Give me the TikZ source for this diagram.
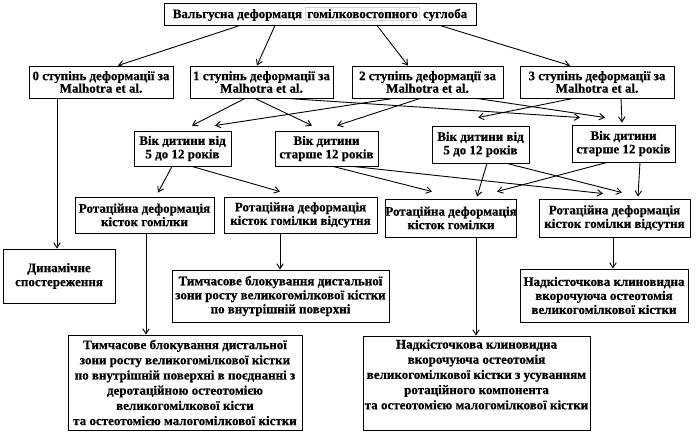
\documentclass[tikz,border=0pt]{standalone}
\usepackage{fontspec}
\setmainfont{Liberation Serif}[BoldFeatures={FakeBold=0.6}]
\usetikzlibrary{arrows.meta,positioning}
\definecolor{hlgray}{HTML}{D4D4D4}
\setlength{\fboxsep}{1.5pt}
\setlength{\fboxrule}{0.5pt}
\tikzset{
  flowbox/.style={draw, line width=0.9pt, align=center, inner sep=0pt,
    font=\bfseries\fontsize{13}{14}\selectfont},
  gradebox/.style={flowbox, font=\bfseries\fontsize{13}{12.5}\selectfont, minimum height=32pt},
  agebox/.style={flowbox, font=\bfseries\fontsize{13}{13.5}\selectfont},
  rotbox/.style={flowbox, font=\bfseries\fontsize{13}{13.5}\selectfont},
  bigbox/.style={flowbox, font=\bfseries\fontsize{13}{15.2}\selectfont},
  arr/.style={-{Straight Barb[length=5pt,width=6.5pt]}, line width=0.9pt}
}

\begin{document}
\begin{tikzpicture}[x=1pt, y=-1pt]
    \useasboundingbox (0,0) rectangle (697,436);
    % root
    \node[flowbox, minimum width=312pt, minimum height=22pt] (root) at (320,14)
      {Вальгусна деформаця \fcolorbox{hlgray}{white}{гомілковостопного} суглоба};
    % grades
    \node[gradebox, minimum width=144pt] (g0) at (101,82) {0 ступінь деформації за\\Malhotra et al.};
    \node[gradebox, minimum width=143pt] (g1) at (261.5,82) {1 ступінь деформації за\\Malhotra et al.};
    \node[gradebox, minimum width=151pt] (g2) at (427.5,82) {2 ступінь деформації за\\Malhotra et al.};
    \node[gradebox, minimum width=154pt] (g3) at (597,82) {3 ступінь деформації за\\Malhotra et al.};
    % age
    \node[agebox, minimum width=97pt, minimum height=35pt] (a1) at (182.5,148.5) {Вік дитини від\\5 до 12 років};
    \node[agebox, minimum width=103pt, minimum height=35pt] (a2) at (326.5,148.5) {Вік дитини\\старше 12 років};
    \node[agebox, minimum width=97pt, minimum height=37pt] (a3) at (480.5,144.5) {Вік дитини від\\5 до 12 років};
    \node[agebox, minimum width=103pt, minimum height=37pt] (a4) at (623.5,143.5) {Вік дитини\\старше 12 років};
    % rotation
    \node[rotbox, minimum width=139pt, minimum height=36pt] (r1) at (144.5,215) {Ротаційна деформація\\кісток гомілки};
    \node[rotbox, minimum width=153pt, minimum height=36pt] (r2) at (300.5,215) {Ротаційна деформація\\кісток гомілки відсутня};
    \node[rotbox, minimum width=126pt, minimum height=38pt] (r3) at (451,218) {Ротаційна деформація\\кісток гомілки};
    \node[rotbox, minimum width=151pt, minimum height=38pt] (r4) at (614.5,218) {Ротаційна деформація\\кісток гомілки відсутня};
    % treatment
    \node[flowbox, minimum width=112pt, minimum height=54pt] (obs) at (59,276) {Динамічне\\спостереження};
    \node[flowbox, minimum width=217pt, minimum height=52pt] (t1) at (280.5,296)
      {Тимчасове блокування дистальної\\зони росту великогомілкової кістки\\по внутрішній поверхні};
    \node[flowbox, minimum width=168pt, minimum height=53pt] (n1) at (604,295.5)
      {Надкісточкова клиновидна\\вкорочуюча остеотомія\\великогомілкової кістки};
    \node[bigbox, minimum width=234pt, minimum height=95pt] (t2) at (185,382.5)
      {Тимчасове блокування дистальної\\зони росту великогомілкової кістки\\по внутрішній поверхні в поєднанні з\\деротаційною остеотомією\\великогомілкової кісти\\та остеотомією малогомілкової кістки};
    \node[bigbox, minimum width=227pt, minimum height=94pt] (n2) at (476.5,383)
      {Надкісточкова клиновидна\\вкорочуюча остеотомія\\великогомілкової кістки з усуванням\\ротаційного компонента\\та остеотомією малогомілкової кістки\\[2pt]};

    \draw[arr] ([xshift=-80pt]root.south) -- ([xshift=17pt]g0.north);
    \draw[arr] ([xshift=-45pt]root.south) -- ([xshift=-4.5pt]g1.north);
    \draw[arr] ([xshift=57pt]root.south) -- ([xshift=-19.5pt]g2.north);
    \draw[arr] ([xshift=120pt]root.south) -- ([xshift=-27pt]g3.north);

    \draw[arr] ([xshift=-2pt]obs.north |- g0.south) -- ([xshift=-2pt]obs.north);

    \draw[arr] ([xshift=-16.5pt]g1.south) -- ([xshift=9.5pt,yshift=5pt]a1.north);
    \draw[arr] ([xshift=-6.5pt]g1.south) -- ([xshift=-14.5pt,yshift=5pt]a2.north);
    \draw[arr] ([xshift=25.5pt]g1.south) -- ([xshift=-43.5pt,yshift=7pt]a4.north);
    \draw[arr] ([xshift=-34.5pt]g2.south) -- ([xshift=32.5pt,yshift=5pt]a1.north);
    \draw[arr] ([xshift=-7.5pt]g2.south) -- ([xshift=10.5pt,yshift=5pt]a2.north);
    \draw[arr] ([xshift=49.5pt]g2.south) -- ([xshift=-18.5pt,yshift=7pt]a4.north);
    \draw[arr] ([xshift=-24pt]g3.south) -- ([xshift=-2.5pt,yshift=8pt]a3.north);
    \draw[arr] ([xshift=24pt]g3.south) -- ([xshift=-1.5pt,yshift=2pt]a4.north);

    \draw[arr] ([xshift=-10.5pt]a1.south) -- ([xshift=13.5pt,yshift=4pt]r1.north);
    \draw[arr] ([xshift=9.5pt]a1.south) -- ([xshift=-20.5pt,yshift=5pt]r2.north);
    \draw[arr] ([xshift=6.5pt]a2.south) -- ([xshift=-19pt,yshift=7pt]r3.north);
    \draw[arr] ([xshift=26.5pt]a2.south) -- ([xshift=-11.5pt,yshift=5pt]r4.north);
    \draw[arr] ([xshift=6.5pt]a3.south) -- ([xshift=26pt,yshift=2pt]r3.north);
    \draw[arr] ([xshift=26.5pt]a3.south) -- ([xshift=7.5pt,yshift=6pt]r4.north);
    \draw[arr] ([xshift=-16.5pt]a4.south) -- ([xshift=46pt,yshift=7pt]r3.north);
    \draw[arr] ([xshift=16.5pt]a4.south) -- ([xshift=23.5pt,yshift=2pt]r4.north);

    \draw[arr] ([xshift=1.5pt]r1.south) -- ([xshift=1.5pt]r1.south |- t2.north);
    \draw[arr] ([xshift=-20.5pt]r2.south) -- ([xshift=-20.5pt]r2.south |- t1.north);
    \draw[arr] ([xshift=25pt]r3.south) -- ([xshift=25pt]r3.south |- n2.north);
    \draw[arr] ([xshift=-1.5pt]r4.south) -- ([xshift=-1.5pt]r4.south |- n1.north);
  \end{tikzpicture}
\end{document}
